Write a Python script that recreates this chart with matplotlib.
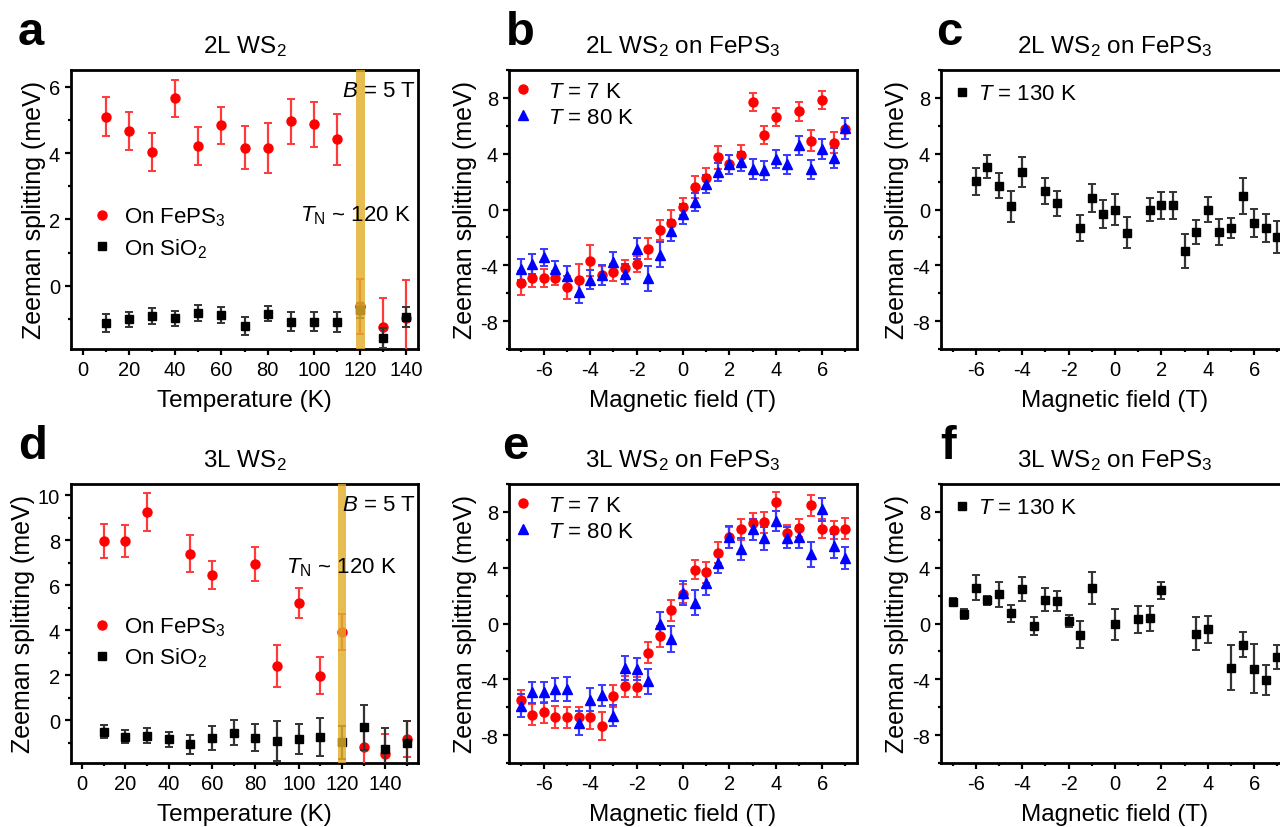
import matplotlib.pyplot as plt
from matplotlib.ticker import MultipleLocator
import numpy as np

plt.rcParams['font.family'] = ['Liberation Sans', 'DejaVu Sans']
plt.rcParams['mathtext.fontset'] = 'custom'
plt.rcParams['mathtext.rm'] = 'Liberation Sans'
plt.rcParams['mathtext.it'] = 'Liberation Sans:italic'
plt.rcParams['mathtext.bf'] = 'Liberation Sans:bold'
plt.rcParams['axes.unicode_minus'] = False

RED = '#ff0000'
RED_ERR = '#ff3a3a'
BLUE = '#0000ff'
BLUE_ERR = '#3a3aff'
BLACK = '#000000'
BLACK_ERR = '#333333'
BAND = '#e2ae2a'

# ---- panel a: 2L WS2, B = 5 T ----
temp_a = [10, 20, 30, 40, 50, 60, 70, 80, 90, 100, 110, 120, 130, 140]
feps_a = [5.1, 4.67, 4.04, 5.65, 4.22, 4.83, 4.16, 4.16, 4.95, 4.86, 4.42, -0.62, -1.25, -0.96]
feps_a_err = [0.6, 0.58, 0.57, 0.55, 0.57, 0.55, 0.64, 0.75, 0.69, 0.67, 0.77, 0.82, 0.9, 1.13]
sio2_a = [-1.13, -1.01, -0.91, -0.98, -0.82, -0.88, -1.21, -0.84, -1.08, -1.08, -1.1, -0.73, -1.56, -0.95]
sio2_a_err = [0.27, 0.22, 0.24, 0.22, 0.24, 0.24, 0.28, 0.22, 0.28, 0.28, 0.3, 0.23, 0.3, 0.3]

# ---- panel d: 3L WS2, B = 5 T ----
temp_d_feps = [10, 20, 30, 50, 60, 80, 90, 100, 110, 120, 130, 140, 150]
feps_d = [7.96, 7.96, 9.26, 7.41, 6.45, 6.95, 2.41, 5.22, 1.98, 3.91, -1.17, -1.5, -0.85]
feps_d_err = [0.77, 0.71, 0.85, 0.83, 0.62, 0.74, 0.92, 0.68, 0.82, 0.8, 1.0, 0.9, 0.8]
temp_d_sio2 = [10, 20, 30, 40, 50, 60, 70, 80, 90, 100, 110, 120, 130, 140, 150]
sio2_d = [-0.5, -0.73, -0.68, -0.85, -1.07, -0.77, -0.55, -0.77, -0.92, -0.83, -0.73, -0.98, -0.31, -1.28, -1.03]
sio2_d_err = [0.27, 0.3, 0.33, 0.34, 0.42, 0.53, 0.54, 0.6, 0.87, 0.66, 0.85, 0.74, 1.0, 0.92, 1.0]

# ---- panel b: 2L WS2 on FePS3 ----
field_b_7K = [-7, -6.5, -6, -5.5, -5, -4.5, -4, -3.5, -3, -2.5, -2, -1.5, -1, -0.5, 0,
              0.5, 1, 1.5, 2, 2.5, 3, 3.5, 4, 5, 5.5, 6, 6.5, 7]
split_b_7K = [-5.26, -4.92, -4.92, -4.88, -5.59, -5.02, -3.68, -4.73, -4.49, -4.2, -3.9, -2.8, -1.48, -0.96, 0.19,
              1.6, 2.25, 3.73, 3.23, 3.92, 7.7, 5.33, 6.65, 7.03, 4.92, 7.82, 4.8, 5.79]
err_b_7K = [0.85, 0.65, 0.65, 0.5, 0.8, 1.1, 1.1, 0.65, 0.6, 0.6, 0.6, 0.75, 0.7, 0.95, 0.6,
            0.8, 0.7, 0.85, 0.7, 0.7, 0.65, 0.65, 0.65, 0.7, 0.75, 0.65, 0.75, 0.75]
field_b_80K = [-7, -6.5, -6, -5.5, -5, -4.5, -4, -3.5, -3, -2.5, -2, -1.5, -1, -0.5, 0,
               0.5, 1, 1.5, 2, 2.5, 3, 3.5, 4, 4.5, 5, 5.5, 6, 6.5, 7]
split_b_80K = [-4.3, -3.9, -3.42, -4.3, -4.78, -5.93, -5.02, -4.69, -3.78, -4.61, -2.82, -4.92, -3.25, -1.51, -0.31,
               0.53, 1.84, 2.68, 3.23, 3.44, 2.92, 2.8, 3.59, 3.23, 4.59, 2.87, 4.35, 3.68, 5.83]
err_b_80K = [0.75, 0.7, 0.6, 0.6, 0.75, 0.8, 0.7, 0.7, 0.75, 0.7, 0.75, 0.9, 0.9, 0.75, 0.7,
             0.65, 0.65, 0.65, 0.7, 0.7, 0.7, 0.7, 0.65, 0.65, 0.7, 0.65, 0.7, 0.7, 0.75]

# ---- panel e: 3L WS2 on FePS3 ----
field_e = [-7, -6.5, -6, -5.5, -5, -4.5, -4, -3.5, -3, -2.5, -2, -1.5, -1, -0.5, 0,
           0.5, 1, 1.5, 2, 2.5, 3, 3.5, 4, 4.5, 5, 5.5, 6, 6.5, 7]
split_e_7K = [-5.5, -6.53, -6.36, -6.69, -6.72, -6.69, -6.72, -7.32, -5.21, -4.49, -4.54, -2.1, -0.91, 0.96, 2.15,
              3.87, 3.68, 5.07, 6.19, 6.74, 7.22, 7.27, 8.73, 6.46, 6.86, 8.46, 6.81, 6.69, 6.79]
err_e_7K = [0.75, 0.75, 0.75, 0.8, 0.75, 0.7, 0.85, 1.0, 0.8, 0.75, 0.7, 0.75, 0.75, 0.75, 0.65,
            0.7, 0.75, 0.75, 0.75, 0.75, 0.7, 0.75, 0.7, 0.6, 0.65, 0.75, 0.7, 0.65, 0.75]
split_e_80K = [-5.88, -4.92, -4.92, -4.73, -4.69, -7.12, -5.45, -5.16, -6.6, -3.18, -3.25, -4.14, 0.0, -1.1, 2.2,
               1.48, 2.92, 4.35, 6.22, 5.36, 6.74, 6.1, 7.34, 6.14, 6.2, 4.95, 8.18, 5.55, 4.71]
err_e_80K = [0.85, 0.75, 0.75, 0.8, 0.85, 0.85, 0.8, 0.75, 0.75, 0.85, 0.8, 0.9, 0.85, 0.95, 0.85,
             0.9, 0.85, 0.75, 0.8, 0.8, 0.75, 0.8, 0.7, 0.75, 0.8, 0.9, 0.8, 0.85, 0.8]

# ---- panel c: 2L WS2 on FePS3, 130 K ----
field_c = [-6, -5.5, -5, -4.5, -4, -3, -2.5, -1.5, -1, -0.5, 0, 0.5, 1.5, 2, 2.5,
           3, 3.5, 4, 4.5, 5, 5.5, 6, 6.5, 7]
split_c = [2.01, 3.08, 1.72, 0.22, 2.68, 1.31, 0.45, -1.31, 0.81, -0.31, 0.0, -1.67, 0.0, 0.29, 0.29,
           -2.96, -1.63, 0.0, -1.63, -1.34, 0.96, -0.98, -1.34, -1.98]
err_c = [1.0, 0.8, 0.9, 1.1, 1.1, 0.95, 0.9, 0.95, 1.0, 1.0, 1.1, 1.1, 0.85, 1.0, 1.0,
         1.2, 0.85, 0.9, 0.95, 0.7, 1.3, 1.0, 1.0, 1.15]

# ---- panel f: 3L WS2 on FePS3, 130 K ----
field_f = [-7, -6.5, -6, -5.5, -5, -4.5, -4, -3.5, -3, -2.5, -2, -1.5, -1, 0, 1, 1.5, 2,
           3.5, 4, 5, 5.5, 6, 6.5, 7]
split_f = [1.53, 0.69, 2.56, 1.65, 2.08, 0.72, 2.49, -0.19, 1.72, 1.6, 0.17, -0.79, 2.53, -0.07, 0.29, 0.36, 2.37,
           -0.72, -0.43, -3.16, -1.51, -3.23, -4.04, -2.39]
err_f = [0.3, 0.35, 0.9, 0.35, 0.9, 0.6, 0.85, 0.65, 0.85, 0.7, 0.45, 0.95, 1.15, 1.1, 0.95, 0.9, 0.6,
         1.2, 0.95, 1.6, 0.9, 1.75, 1.1, 0.85]

fig = plt.figure(figsize=(12.8, 8.28), dpi=100)

W, H = 1280.0, 828.0
def add_axes(left, top, width=347, height=279):
    return fig.add_axes([left / W, 1 - (top + height) / H, width / W, height / H])

ax_a = add_axes(71, 71)
ax_b = add_axes(509, 71, 348)
ax_c = add_axes(941, 71, 348)
ax_d = add_axes(71, 485)
ax_e = add_axes(509, 485, 348)
ax_f = add_axes(941, 485, 348)


def style(ax, xmaj, xmin, ymaj, ymin):
    for s in ax.spines.values():
        s.set_linewidth(2.0)
    ax.xaxis.set_major_locator(MultipleLocator(xmaj))
    ax.xaxis.set_minor_locator(MultipleLocator(xmin))
    ax.yaxis.set_major_locator(MultipleLocator(ymaj))
    ax.yaxis.set_minor_locator(MultipleLocator(ymin))
    ax.tick_params(which='both', direction='out', top=False, right=False, width=1.6)
    ax.tick_params(which='major', length=4, labelsize=14.5, pad=4)
    ax.tick_params(which='minor', length=2.5)
    ax.set_ylabel('Zeeman splitting (meV)', fontsize=18, labelpad=2)


ebar = dict(capsize=2.6, elinewidth=1.6, capthick=1.4, linestyle='none')


def temp_panel(ax, tf, yf, ef, ts, ys, es, xmax, ylim, ymaj, legend_y, tn_y, title, tn_x):
    ax.errorbar(tf, yf, yerr=ef, fmt='o', color=RED, ecolor=RED_ERR, ms=6.5, zorder=3,
                label='On FePS$_3$', **ebar)
    ax.errorbar(ts, ys, yerr=es, fmt='s', color=BLACK, ecolor=BLACK_ERR, ms=5.5, zorder=4,
                label='On SiO$_2$', **ebar)
    ax.axvspan(118, 122, color=BAND, alpha=0.82, lw=0, zorder=5)
    ax.set_xlim(-5, xmax)
    ax.set_ylim(*ylim)
    style(ax, 20, 10, ymaj, ymaj / 2)
    ax.set_xlabel('Temperature (K)', fontsize=17.5, labelpad=7)
    ax.set_title(title, fontsize=17.5, pad=13)
    h, l = ax.get_legend_handles_labels()
    h = [x[0] for x in h]
    ax.legend(h, l, loc='upper left', bbox_to_anchor=(0.0, legend_y), frameon=False,
              fontsize=16, handletextpad=0.3, handlelength=1.4, labelspacing=0.35,
              borderaxespad=0.3)
    ax.text(0.995, 0.965, '$B$ = 5 T', transform=ax.transAxes, ha='right', va='top',
            fontsize=16, zorder=6)
    ax.text(tn_x, tn_y, '$T_\\mathrm{N}$ ~ 120 K', transform=ax.transAxes, ha='right',
            va='center', fontsize=16, zorder=6)


temp_panel(ax_a, temp_a, feps_a, feps_a_err, temp_a, sio2_a, sio2_a_err, 145,
           (-1.9, 6.5), 2, 0.57, 0.48, '2L WS$_2$', 0.98)
temp_panel(ax_d, temp_d_feps, feps_d, feps_d_err, temp_d_sio2, sio2_d, sio2_d_err, 155,
           (-1.9, 10.5), 2, 0.585, 0.705, '3L WS$_2$', 0.94)


def field_panel(ax, x7, y7, e7, x80, y80, e80, title):
    ax.errorbar(x7, y7, yerr=e7, fmt='o', color=RED, ecolor=RED_ERR, ms=6.5, zorder=3,
                label='$T$ = 7 K', **ebar)
    ax.errorbar(x80, y80, yerr=e80, fmt='^', color=BLUE, ecolor=BLUE_ERR, ms=6.5, zorder=3,
                label='$T$ = 80 K', **ebar)
    ax.set_xlim(-7.5, 7.5)
    ax.set_ylim(-10, 10)
    style(ax, 2, 1, 4, 2)
    ax.set_xlabel('Magnetic field (T)', fontsize=17.5, labelpad=7)
    ax.set_title(title, fontsize=17.5, pad=13)
    h, l = ax.get_legend_handles_labels()
    h = [x[0] for x in h]
    ax.legend(h, l, loc='upper left', bbox_to_anchor=(-0.035, 1.01), frameon=False,
              fontsize=16, handletextpad=0.5, handlelength=1.2, labelspacing=0.25,
              borderaxespad=0.2)


field_panel(ax_b, field_b_7K, split_b_7K, err_b_7K, field_b_80K, split_b_80K, err_b_80K,
            '2L WS$_2$ on FePS$_3$')
field_panel(ax_e, field_e, split_e_7K, err_e_7K, field_e, split_e_80K, err_e_80K,
            '3L WS$_2$ on FePS$_3$')


def high_t_panel(ax, x, y, e, title):
    ax.errorbar(x, y, yerr=e, fmt='s', color=BLACK, ecolor=BLACK_ERR, ms=5.5, zorder=3,
                label='$T$ = 130 K', **ebar)
    ax.set_xlim(-7.5, 7.5)
    ax.set_ylim(-10, 10)
    style(ax, 2, 1, 4, 2)
    ax.set_xlabel('Magnetic field (T)', fontsize=17.5, labelpad=7)
    ax.set_title(title, fontsize=17.5, pad=13)
    h, l = ax.get_legend_handles_labels()
    h = [x[0] for x in h]
    ax.legend(h, l, loc='upper left', bbox_to_anchor=(-0.015, 1.0), frameon=False,
              fontsize=16, handletextpad=0.1, handlelength=1.2, borderaxespad=0.2)


high_t_panel(ax_c, field_c, split_c, err_c, '2L WS$_2$ on FePS$_3$')
high_t_panel(ax_f, field_f, split_f, err_f, '3L WS$_2$ on FePS$_3$')

# panel letters
for letter, (px, py) in zip('abcdef', [(18, 45), (506, 45), (936, 45),
                                       (18, 459), (502, 459), (940, 459)]):
    fig.text(px / W, 1 - py / H, letter, fontsize=34, fontweight='bold', ha='left',
             va='baseline')

fig.savefig('out.png', dpi=100)
